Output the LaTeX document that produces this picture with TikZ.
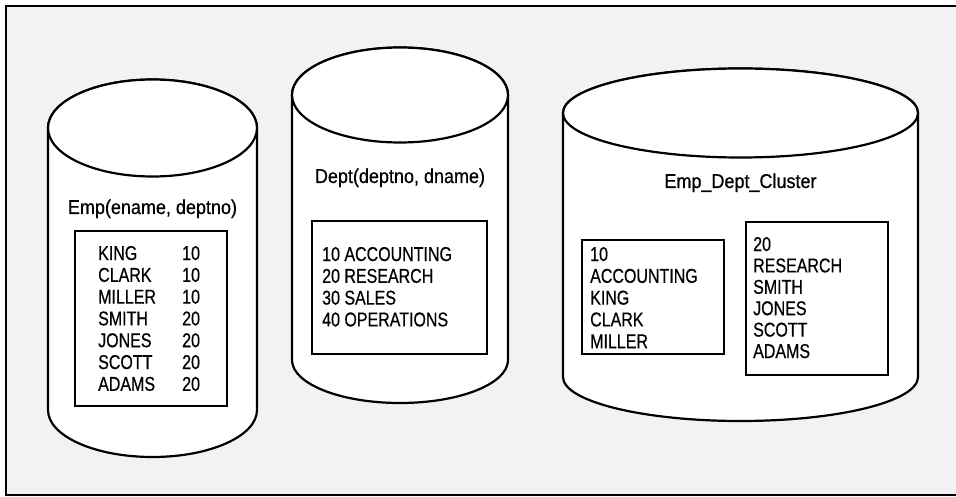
\documentclass[tikz,border=0pt]{standalone}
\usepackage{fontspec}
\setmainfont{Liberation Sans}[FakeStretch=0.8,FakeBold=0.5]
\newfontfamily\lblfont{Liberation Sans}[FakeStretch=0.9,FakeBold=0.5]
\definecolor{bg}{HTML}{F2F2F2}
\newcommand{\drawcyl}[6]{%
  \filldraw[cyl] (#1-#3,#2) -- (#1-#3,#5)
    arc[start angle=180,end angle=0,x radius=#3,y radius=#6]
    -- (#1+#3,#2)
    arc[start angle=0,end angle=-180,x radius=#3,y radius=#4] -- cycle;
  \draw[cyl] (#1,#2) ellipse[x radius=#3,y radius=#4];}
\begin{document}
\begin{tikzpicture}[x=1pt,y=-1pt,
  cyl/.style={draw=black,fill=white,line width=2.2pt},
  tbox/.style={draw=black,fill=white,line width=2.2pt,inner sep=0pt},
  lbl/.style={inner sep=0pt,align=left,font=\fontsize{20}{21.8}\selectfont},
  title/.style={inner sep=0pt,font=\lblfont\fontsize{20}{21.8}\selectfont}]
\useasboundingbox (0,0) rectangle (956,497);
\fill[bg] (6,6) rectangle (956,495);
\draw[line width=2.2pt] (956,6) -- (6,6) -- (6,495) -- (956,495);
% cylinders
\drawcyl{152.5}{128}{104.5}{48.5}{410}{47}
\drawcyl{400}{95}{108}{47.5}{360}{43}
\drawcyl{740.5}{113}{177.5}{44.5}{377}{44}
% boxes
\node[tbox,minimum width=152pt,minimum height=175pt] (empbox) at (151,318.5) {};
\node[tbox,minimum width=175pt,minimum height=133pt] (deptbox) at (399.5,287.5) {};
\node[tbox,minimum width=142pt,minimum height=114pt] (c10box) at (653,297) {};
\node[tbox,minimum width=142pt,minimum height=153pt] (c20box) at (817,298.5) {};
% labels
\node[title,anchor=base] (emplbl) at (152.5,214) {Emp(ename, deptno)};
\node[title,anchor=base] (deptlbl) at (400,183) {Dept(deptno, dname)};
\node[title,anchor=base] (clulbl) at (740.5,188) {Emp\_Dept\_Cluster};
% contents (base anchor = baseline of last line)
\node[lbl,anchor=base west] (empnames) at (98,390.8) {KING\\CLARK\\MILLER\\SMITH\\JONES\\SCOTT\\ADAMS};
\node[lbl,anchor=base west] (empnums) at (182,390.8) {10\\10\\10\\20\\20\\20\\20};
\node[lbl,anchor=base west] (depttxt) at (322,326.4) {10 ACCOUNTING\\20 RESEARCH\\30 SALES\\40 OPERATIONS};
\node[lbl,anchor=base west] (c10txt) at (590,348.2) {10\\ACCOUNTING\\KING\\CLARK\\MILLER};
\node[lbl,anchor=base west,font=\fontsize{20}{21.4}\selectfont] (c20txt) at (753,358) {20\\RESEARCH\\SMITH\\JONES\\SCOTT\\ADAMS};
\end{tikzpicture}
\end{document}
